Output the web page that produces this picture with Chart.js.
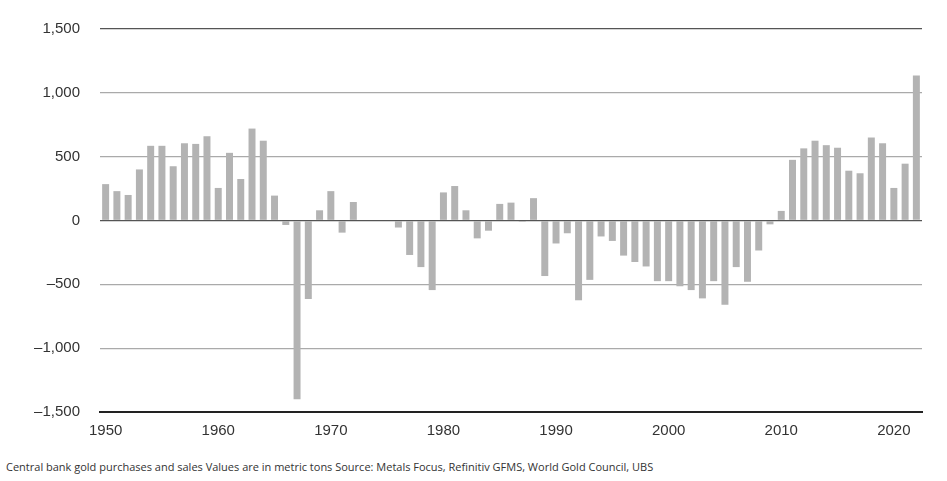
<!DOCTYPE html>
<html><head><meta charset="utf-8">
<script src="https://cdn.jsdelivr.net/npm/chart.js@4"></script>
<style>body{margin:0;background:#fff;font-family:"Open Sans",sans-serif}
#wrap{position:relative;width:947px;height:450px}
#cap{position:absolute;left:6px;top:459px;font-size:11px;color:#333}</style>
</head><body>
<div id="wrap"><canvas id="c"></canvas></div>
<div id="cap">Central bank gold purchases and sales Values are in metric tons Source: Metals Focus, Refinitiv GFMS, World Gold Council, UBS</div>
<script>
const years = [];
for (let y = 1950; y <= 2022; y++) years.push(String(y));
const tons = [285,230,200,400,585,585,425,605,600,660,255,530,325,720,625,195,-35,-1400,-615,80,
230,-95,145,0,-5,-5,-55,-270,-365,-545,220,270,80,-140,-80,130,140,-10,175,-435,
-180,-100,-625,-465,-125,-160,-275,-325,-360,-475,-475,-515,-545,-610,-475,-660,-365,-480,-235,-30,
75,475,565,625,590,570,390,370,650,605,255,445,1135];
const yTicks = [-1500,-1000,-500,0,500,1000,1500];
new Chart(document.getElementById('c'), {
  type: 'bar',
  data: { labels: years, datasets: [{ data: tons, backgroundColor: '#b3b3b3', barPercentage: 0.62, categoryPercentage: 1 }] },
  options: {
    responsive: true, maintainAspectRatio: false, animation: false,
    layout: { padding: { top: 20, right: 25, left: 0, bottom: 0 } },
    plugins: { legend: { display: false }, tooltip: { enabled: false } },
    scales: {
      x: {
        offset: true,
        grid: { display: false },
        border: { color: '#222', width: 2 },
        ticks: { autoSkip: false, maxRotation: 0, color: '#333', font: { size: 15 }, padding: 2,
          callback: (v, i) => (Number(years[i]) % 10 === 0 ? years[i] : '') },
        afterFit: s => { s.height = 38; }
      },
      y: {
        min: -1500, max: 1500,
        afterBuildTicks: s => { s.ticks = yTicks.map(v => ({ value: v })); },
        grid: { drawTicks: false, lineWidth: 1.3,
          color: c => (c.tick.value === 0 || c.tick.value === 1500) ? '#555' : '#aaa' },
        border: { display: false },
        ticks: { color: '#333', font: { size: 15 }, padding: 20,
          callback: v => v.toLocaleString('en-US').replace('-', '\u2013') },
        afterFit: s => { s.width = 100; }
      }
    }
  }
});
</script></body></html>
